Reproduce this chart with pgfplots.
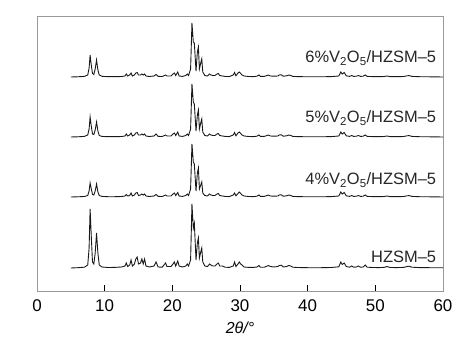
\documentclass[border=0pt]{standalone}
\usepackage{pgfplots}
\usepackage{pgfplotstable}
\pgfplotsset{compat=1.18}
\usepackage{fontspec}
\setmainfont{Liberation Sans}
\pgfplotstableread{
x h0 h4 h5 h6
5.0 0 0 0 0
6.0 0.3 0.2 0.2 0.2
7.0 0.8 0.5 0.6 0.6
7.5 3 1.5 2 2
7.7 20 6 8 9
7.85 59 14 20 22
8.0 35 9 12 13
8.2 6 2.5 3 3.5
8.4 4 2 2.5 2.5
8.6 15 6 7 8
8.8 35 13 15 17
9.0 15 5 6 7
9.2 3 1.5 1.5 2
9.6 1 0.6 0.6 0.7
10.5 0.5 0.3 0.3 0.3
11.5 0.6 0.3 0.3 0.3
12.5 1.0 0.5 0.5 0.5
13.0 2 1 1 1
13.2 5 2.5 3 3
13.4 1.5 1 1 1
13.7 3 1.5 2 2
13.9 8 4 4 4
14.1 2 1 1 1
14.4 4 2 2 2
14.6 9 4 4 4
14.8 11 4.5 4.5 4.5
15.0 4 1.5 2 2
15.3 5 2 2 2
15.5 9 3 3 3
15.7 4 2 2 2
15.9 9 3 3 3
16.1 2 1 1 1
16.6 1 0.5 0.5 0.5
17.3 2 1 1 1
17.6 6 2.5 3 2.5
17.9 1 0.6 0.6 0.6
18.5 0.8 0.5 0.5 0.5
19.0 5 2 2 2
19.2 1.5 1 1 1
19.8 1.5 1 1 1
20.1 4 3 3 3
20.3 6 4 4 4
20.5 2 1.5 1.5 1.5
20.8 7 4.5 5 5
21.0 2 1 1 1
21.5 1 0.6 0.6 0.6
22.0 2 1.5 1.5 1.5
22.2 4 3 3 3
22.4 2 1.5 1.5 1.5
22.7 8 8 8 8
22.9 64 53 53 54
23.1 40 35 35 35
23.25 45 33 33 34
23.5 8 6 6 6
23.7 25 24 22 25
23.85 30 29 27 30
24.0 10 8 8 8
24.2 16 12 14 14
24.35 20 15 18 18
24.5 6 4 5 5
24.8 2 1.5 1.5 1.5
25.2 1.5 1 1 1
25.5 4 3 3 3
25.7 3 2 2 2
26.0 2 1.5 1.5 1.5
26.3 2 1.5 1.5 1.5
26.6 4 3 3 3
26.8 5 3.5 3.5 3.5
27.0 2 1.5 1.5 1.5
27.4 2 1 1 1
27.8 0.8 0.6 0.6 0.6
28.4 0.6 0.4 0.4 0.4
29.0 2 2 2 2
29.2 6 4 4.5 4.5
29.4 1.5 1.2 1.2 1.2
29.7 4 3.5 4 4
29.9 6 5 5 5
30.1 4 3.5 3.5 3.5
30.3 3 2 2 2
30.6 1 1 1 1
31.3 0.6 0.5 0.5 0.5
32.0 0.6 0.4 0.4 0.4
32.5 1 0.8 0.8 0.8
32.8 2.5 2 2 2
33.0 0.8 0.6 0.6 0.6
33.6 0.8 0.6 0.6 0.6
34.2 2.5 2 2 2
34.5 1.5 1 1 1
35.0 1 0.8 0.8 0.8
35.6 1.5 1 1 1
35.8 2.5 2 2 2
36.1 2.8 2.2 2.2 2.2
36.4 1 0.8 0.8 0.8
36.9 1.5 1.2 1.2 1.2
37.2 2.5 2 2 2
37.5 2 1.5 1.5 1.5
37.8 0.8 0.6 0.6 0.6
38.5 0.5 0.4 0.4 0.4
40.0 0.3 0.2 0.2 0.2
42.0 0.3 0.2 0.2 0.2
43.5 0.5 0.4 0.4 0.4
44.6 1.2 1 1 1
44.9 6 5 5 5
45.1 3.5 3 3 3
45.4 5 4.5 4.5 4.5
45.7 1.5 1.2 1.2 1.2
46.2 0.8 0.6 0.6 0.6
46.5 2 1.5 1.5 1.5
46.8 0.8 0.6 0.6 0.6
47.2 1 0.8 0.8 0.8
47.5 2 1.5 1.5 1.5
47.8 0.8 0.6 0.6 0.6
48.2 1 0.8 0.8 0.8
48.5 3 2 2 2
48.8 0.8 0.6 0.6 0.6
49.6 0.5 0.4 0.4 0.4
50.5 0.4 0.3 0.3 0.3
51.3 0.6 0.5 0.5 0.5
51.7 1.5 1 1 1
52.2 0.5 0.4 0.4 0.4
53.2 0.4 0.3 0.3 0.3
54.2 0.6 0.5 0.5 0.5
54.7 1.5 1.2 1.2 1.2
55.0 1.8 1.4 1.4 1.4
55.4 0.8 0.6 0.6 0.6
56.5 0.4 0.3 0.3 0.3
58.0 0.3 0.2 0.2 0.2
60.0 0.2 0 0 0
}\xrd
\begin{document}
\begin{tikzpicture}
\begin{axis}[
  width=406bp, height=275bp, scale only axis,
  xmin=0, xmax=60, ymin=0, ymax=275,
  axis line style={draw=gray!80, line width=0.8pt},
  xtick={0,10,...,60}, ytick=\empty,
  xtick pos=bottom, tick align=inside,
  major tick length=6bp,
  tick style={black, line width=0.7pt},
  xticklabel style={font=\fontsize{17}{19}\selectfont, anchor=center, yshift=-15bp},
  /pgf/number format/assume math mode=true,
  xlabel={\itshape 2θ/°},
  xlabel style={font=\fontsize{16}{18}\selectfont, anchor=center, at={(axis description cs:0.5,0)}, yshift=-37bp},
  clip=false,
]
\addplot[black!90, line width=0.9pt] table[x=x, y expr=\thisrow{h0}+23] {\xrd};
\addplot[black!90, line width=0.9pt] table[x=x, y expr=\thisrow{h4}+94] {\xrd};
\addplot[black!90, line width=0.9pt] table[x=x, y expr=\thisrow{h5}+154] {\xrd};
\addplot[black!90, line width=0.9pt] table[x=x, y expr=\thisrow{h6}+214] {\xrd};
\node[anchor=east, text=black!85, font=\fontsize{16.5}{18}\selectfont] at (axis cs:59.5,34) {HZSM–5};
\node[anchor=east, text=black!85, font=\fontsize{16.5}{18}\selectfont] at (axis cs:59.5,111) {4\%V\textsubscript{2}O\textsubscript{5}/HZSM–5};
\node[anchor=east, text=black!85, font=\fontsize{16.5}{18}\selectfont] at (axis cs:59.5,173) {5\%V\textsubscript{2}O\textsubscript{5}/HZSM–5};
\node[anchor=east, text=black!85, font=\fontsize{16.5}{18}\selectfont] at (axis cs:59.5,233) {6\%V\textsubscript{2}O\textsubscript{5}/HZSM–5};
\coordinate (SW) at (rel axis cs:0,0);
\coordinate (NE) at (rel axis cs:1,1);
\end{axis}
\pgfresetboundingbox
\path (SW) ++(-37bp,-53bp) coordinate (A);
\path (NE) ++(32bp,16bp) coordinate (B);
\path[use as bounding box] (A) rectangle (B);
\end{tikzpicture}
\end{document}
